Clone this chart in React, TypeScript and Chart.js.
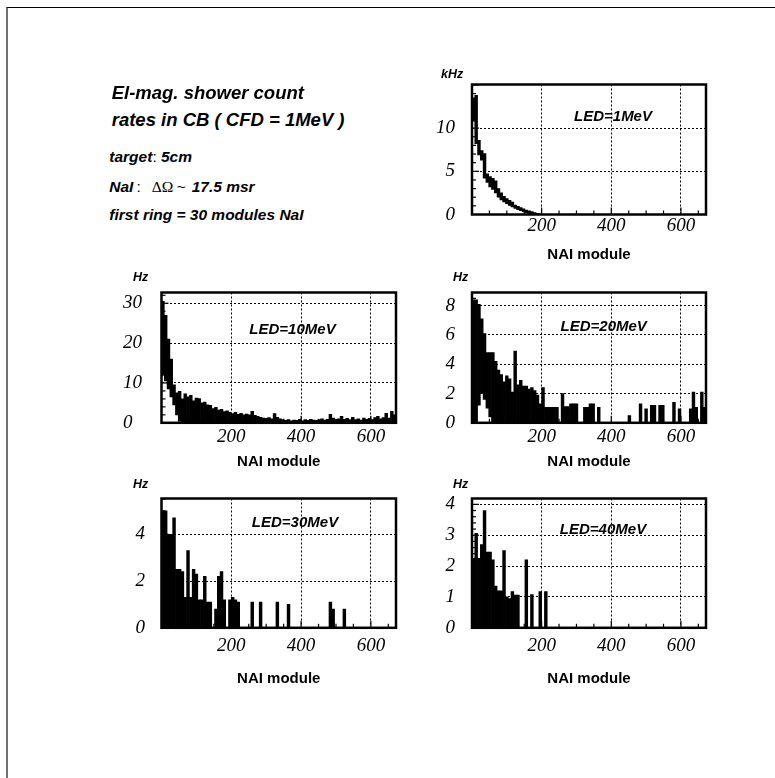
import React, { useEffect, useRef } from "react";
import { Chart, registerables } from "chart.js";

Chart.register(...registerables);

// ---------------- data ----------------
const MODULES_PER_BIN = 8;
const N_MODULES = 672;
const xTickValues = [200, 400, 600];

// LED = 1 MeV (kHz): band (low, high) of the histogram per 8-module bin
const led1High = [13.5, 13.8, 8.6, 7.4, 7.05, 4.7, 4.4, 4.2, 3.9, 3.0, 2.5, 2.1, 1.85, 1.65, 1.45, 1.1, 0.95, 0.8, 0.65, 0.52, 0.42, 0.33, 0.22, 0.13, 0.08];
const led1Low = [10.8, 8.2, 6.9, 6.3, 4.2, 3.7, 3.2, 2.9, 2.5, 2.0, 1.7, 1.45, 1.25, 1.05, 0.88, 0.7, 0.55, 0.45, 0.32, 0.22, 0.12, 0.05, 0, 0, 0];
const led1Ticks = [0, 5, 10];

// LED = 10 MeV (Hz)
const led10High = [
  30.5, 27, 21, 16, 9.5, 7.5, 7.9, 6.0, 7.3, 6.5,
  6.9, 5.5, 6.2, 6.1, 5.0, 5.2, 4.5, 4.4, 3.6, 3.9,
  3.2, 3.4, 2.8, 3.0, 2.6, 2.3, 2.6, 2.1, 2.4, 2.0,
  2.2, 2.0, 2.9, 1.9, 1.6, 1.4, 1.2, 1.1, 1.3, 1.0,
  2.3, 1.4, 1.0, 0.8, 0.6, 0.8, 0.5, 0.7, 0.6, 0.9,
  0.5, 0.8, 0.6, 0.9, 0.7, 0.6, 0.8, 1.0, 0.7, 0.9,
  2.1, 1.2, 0.8, 1.0, 1.6, 0.9, 1.1, 0.8, 1.4, 0.8,
  1.0, 0.7, 1.2, 0.9, 1.1, 0.8, 1.3, 1.6, 1.0, 1.3,
  2.4, 1.2, 2.9, 2.0,
];
const led10Low = [12, 10.5, 8.5, 6.5, 4.5, 2, 0.5];
const led10Ticks = [0, 10, 20, 30];

// LED = 20 MeV (Hz)
const led20High = [
  8.4, 8.4, 8.1, 7.1, 6.1, 4.8, 4.8, 4.8, 4.2, 3.6,
  3.3, 2.8, 3.2, 3.0, 2.1, 4.9, 2.6, 2.9, 2.5, 2.5,
  2.3, 2.4, 2.2, 1.9, 1.3, 2.4, 1.05, 1.05, 1.05, 1.05,
  1.05, null, 2.0, 1.1, 1.1, 1.3, 1.3, 1.3, null, null,
  1.05, 1.05, 1.3, 1.3, null, 1.05, null, null, null, null,
  null, null, null, null, null, null, 0.5, null, null, null,
  1.3, null, 0.95, null, 1.2, 1.2, null, 1.2, 1.2, null,
  null, null, 1.4, null, 0.95, null, null, null, 0.95, 2.1,
  1.05, null, 2.1, 1.05,
];
const led20Low = [0, 0, 1.2, 2.0, 1.6, 1.0, 0.4];
const led20Ticks = [0, 2, 4, 6, 8];

// LED = 30 MeV (Hz)
const led30High = [
  5.0, 5.0, 4.0, 4.0, 4.7, 2.5, 2.5, 2.4, 1.3, 3.3,
  1.3, 2.5, 2.3, 1.2, 1.2, 2.2, 1.1, 1.1, null, 0.8,
  2.2, 2.4, 1.2, null, 1.2, 1.3, 1.2, 1.1, null, null,
  null, null, 1.1, null, null, 1.1, null, null, null, null,
  null, 1.1, null, null, null, 1.0, null, null, null, null,
  null, null, null, null, null, null, null, null, null, null,
  1.1, 0.8, null, null, null, 0.8,
];
const led30Low: number[] = [];
const led30Ticks = [0, 2, 4];

// LED = 40 MeV (Hz)
const led40High = [
  2.25, 3.06, 2.25, 2.7, 3.8, 2.45, 2.45, 2.2, 1.35, 1.2,
  1.2, 2.5, 1.0, 0.95, 1.17, 1.06, 1.06, null, null, 2.2,
  null, 1.08, null, null, 1.17, null, 1.17,
];
const led40Low: number[] = [];
const led40Ticks = [0, 1, 2, 3, 4];

// ---------------- drawing helpers ----------------
const SANS = '"Liberation Sans", Arial, Helvetica, sans-serif';
const SERIF = '"Liberation Serif", "Times New Roman", serif';

const framePlugin = {
  id: "frameTicks",
  afterDatasetsDraw(chart: any, _args: any, opts: any) {
    const { ctx, chartArea: a, scales } = chart;
    ctx.save();
    ctx.strokeStyle = "#000";
    ctx.lineWidth = 1.2;
    ctx.setLineDash([]);
    for (let k = 1; k * opts.xMinor < N_MODULES; k++) {
      const v = k * opts.xMinor;
      const px = scales.x.getPixelForValue(v);
      const len = v % opts.xMajor === 0 ? 7 : 4;
      ctx.beginPath();
      ctx.moveTo(px, a.bottom);
      ctx.lineTo(px, a.bottom - len);
      ctx.stroke();
    }
    const yMax = scales.y.max;
    for (let k = 1; k * opts.yMinor < yMax - 1e-9; k++) {
      const v = k * opts.yMinor;
      const py = scales.y.getPixelForValue(v);
      const r = v / opts.yMajor;
      const len = Math.abs(r - Math.round(r)) < 1e-6 ? 7 : 4;
      ctx.beginPath();
      ctx.moveTo(a.left, py);
      ctx.lineTo(a.left + len, py);
      ctx.stroke();
    }
    ctx.lineWidth = 2.5;
    ctx.strokeRect(a.left, a.top, a.right - a.left, a.bottom - a.top);
    ctx.restore();
  },
};

type PanelProps = {
  high: (number | null)[];
  low: number[];
  yMax: number;
  yTicks: number[];
  yMinor: number;
  yMajor: number;
  left: number;
  top: number;
  width: number;
  height: number;
  axisW: number;
  axisH: number;
  padTop: number;
  padRight: number;
  yAlign: "near" | "far";
  yPad: number;
  xPad: number;
};

function Panel(p: PanelProps) {
  const ref = useRef<HTMLCanvasElement>(null);
  useEffect(() => {
    const points: any[] = [];
    p.high.forEach((h, i) => {
      if (h === null || h === undefined) return;
      points.push({ x: i * MODULES_PER_BIN + MODULES_PER_BIN / 2, y: [p.low[i] ?? 0, h] });
    });
    const tickFont = { family: SERIF, style: "italic" as const, weight: "normal" as const, size: 19 };
    const chart = new Chart(ref.current as HTMLCanvasElement, {
      type: "bar",
      data: {
        datasets: [
          {
            data: points,
            backgroundColor: "#000",
            borderWidth: 0,
            barPercentage: 1,
            categoryPercentage: 1,
          } as any,
        ],
      },
      options: {
        animation: false,
        responsive: true,
        maintainAspectRatio: false,
        events: [],
        layout: { padding: { top: p.padTop, right: p.padRight, left: 0, bottom: 0 } },
        plugins: {
          legend: { display: false },
          tooltip: { enabled: false },
          frameTicks: { xMinor: 50, xMajor: 200, yMinor: p.yMinor, yMajor: p.yMajor },
        } as any,
        scales: {
          x: {
            type: "linear",
            min: 0,
            max: N_MODULES,
            offset: false,
            afterBuildTicks: (s: any) => {
              s.ticks = xTickValues.map((v) => ({ value: v }));
            },
            afterFit: (s: any) => {
              s.height = p.axisH;
              s.paddingLeft = 0;
              s.paddingRight = 0;
            },
            ticks: { font: tickFont, color: "#000", padding: p.xPad, maxRotation: 0, minRotation: 0, autoSkip: false },
            grid: { color: "#000", lineWidth: 1, drawTicks: false, offset: false },
            border: { display: false, dash: [2, 2] },
            title: {
              display: true,
              text: "NAI module",
              color: "#000",
              font: { family: SANS, weight: "bold", size: 15 },
              padding: { top: 0, bottom: 0 },
            },
          },
          y: {
            type: "linear",
            min: 0,
            max: p.yMax,
            afterBuildTicks: (s: any) => {
              s.ticks = p.yTicks.map((v) => ({ value: v }));
            },
            afterFit: (s: any) => {
              s.width = p.axisW;
              s.paddingTop = 0;
              s.paddingBottom = 0;
            },
            ticks: { font: tickFont, color: "#000", padding: p.yPad, crossAlign: p.yAlign, autoSkip: false },
            grid: { color: "#000", lineWidth: 1, drawTicks: false, offset: false },
            border: { display: false, dash: [2, 2] },
          },
        } as any,
      },
      plugins: [framePlugin],
    });
    return () => chart.destroy();
  }, []);
  return (
    <div style={{ position: "absolute", left: p.left, top: p.top, width: p.width, height: p.height }}>
      <canvas ref={ref} />
    </div>
  );
}

type LabelProps = {
  x: number;
  base: number;
  size: number;
  serif?: boolean;
  bold?: boolean;
  italic?: boolean;
  center?: boolean;
  children: React.ReactNode;
};

function Label({ x, base, size, serif = false, bold = true, italic = true, center = false, children }: LabelProps) {
  const asc = serif ? 0.8375 : 0.8465;
  return (
    <div
      style={{
        position: "absolute",
        left: x,
        top: base - asc * size,
        fontFamily: serif ? SERIF : SANS,
        fontSize: size,
        lineHeight: `${size}px`,
        fontWeight: bold ? 700 : 400,
        fontStyle: italic ? "italic" : "normal",
        whiteSpace: "nowrap",
        color: "#000",
        transform: center ? "translateX(-50%)" : undefined,
      }}
    >
      {children}
    </div>
  );
}

export default function App() {
  return (
    <div>
      <div
        style={{
          position: "absolute",
          left: 6,
          top: 6.5,
          width: 769,
          height: 771.5,
          boxSizing: "border-box",
          borderLeft: "2px solid #707070",
          borderTop: "1.5px solid #000",
        }}
      />

      <Panel high={led1High} low={led1Low} yMax={15.05} yTicks={led1Ticks} yMinor={1} yMajor={5}
        left={420} top={60} width={300} height={204} axisW={52} axisH={49.5} padTop={24.5} padRight={14}
        yAlign="near" yPad={17} xPad={0} />
      <Panel high={led10High} low={led10Low} yMax={32.7} yTicks={led10Ticks} yMinor={2} yMajor={10}
        left={123} top={268} width={287} height={203} axisW={38.5} axisH={48.2} padTop={24.5} padRight={14}
        yAlign="far" yPad={8} xPad={2.5} />
      <Panel high={led20High} low={led20Low} yMax={8.9} yTicks={led20Ticks} yMinor={0.5} yMajor={2}
        left={420} top={268} width={300} height={203} axisW={52} axisH={48.2} padTop={24.5} padRight={14}
        yAlign="near" yPad={17} xPad={2.5} />
      <Panel high={led30High} low={led30Low} yMax={5.53} yTicks={led30Ticks} yMinor={0.5} yMajor={2}
        left={110} top={475} width={300} height={213} axisW={51.5} axisH={60.2} padTop={23.5} padRight={14}
        yAlign="near" yPad={16.5} xPad={6.3} />
      <Panel high={led40High} low={led40Low} yMax={4.19} yTicks={led40Ticks} yMinor={0.2} yMajor={1}
        left={420} top={475} width={300} height={213} axisW={52} axisH={60.2} padTop={23.5} padRight={14}
        yAlign="near" yPad={17} xPad={6.3} />

      {/* unit labels */}
      <Label x={441} base={79} size={12.5}>kHz</Label>
      <Label x={133} base={281.7} size={12.5}>Hz</Label>
      <Label x={453} base={281.7} size={12.5}>Hz</Label>
      <Label x={133} base={489} size={12.5}>Hz</Label>
      <Label x={453} base={489} size={12.5}>Hz</Label>

      {/* LED annotations */}
      <Label x={613} base={120.3} size={15} center>LED=1MeV</Label>
      <Label x={292.5} base={334} size={15} center>LED=10MeV</Label>
      <Label x={603.7} base={330.7} size={15} center>LED=20MeV</Label>
      <Label x={295} base={526.7} size={15} center>LED=30MeV</Label>
      <Label x={603} base={534} size={15} center>LED=40MeV</Label>

      {/* text block */}
      <Label x={111.7} base={100} size={18.5}>El-mag. shower count</Label>
      <Label x={111.7} base={126.7} size={18.5}>rates in CB ( CFD = 1MeV )</Label>
      <Label x={109.3} base={162} size={15.5}>
        target<span style={{ fontWeight: 400, fontStyle: "normal" }}>:</span> 5cm
      </Label>
      <Label x={109.3} base={191.7} size={15.5}>NaI</Label>
      <Label x={136.5} base={191.7} size={15.5} bold={false} italic={false}>:</Label>
      <Label x={151.7} base={191.7} size={15.5} serif bold={false} italic={false}>ΔΩ</Label>
      <Label x={176.7} base={191.7} size={15.5} bold={false} italic={false}>~</Label>
      <Label x={191.7} base={191.7} size={15.5}>17.5 msr</Label>
      <Label x={109.3} base={220} size={15.5}>first ring = 30 modules NaI</Label>
    </div>
  );
}
